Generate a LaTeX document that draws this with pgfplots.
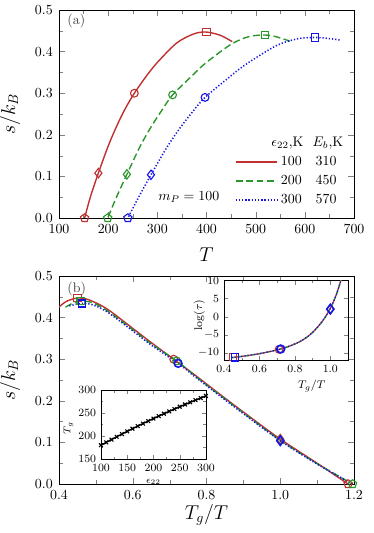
\documentclass[border=0pt]{standalone}
\usepackage{pgfplots}
\pgfplotsset{compat=1.18}
\definecolor{cred}{RGB}{192,48,48}
\definecolor{cgreen}{RGB}{40,150,40}
\definecolor{cblue}{RGB}{20,20,230}
\pgfplotsset{
  lr/.style={cred, line width=1pt, no marks, smooth},
  lg/.style={cgreen, line width=1pt, no marks, smooth, dash pattern=on 5pt off 2.5pt},
  lb/.style={cblue, line width=1.1pt, no marks, smooth, dash pattern=on 0.9pt off 1.4pt},
  mk/.style={only marks, mark size=2.8pt, line width=0.8pt, forget plot, mark options={solid, fill=none}},
  mkp/.style={mk, mark=pentagon, mark size=3.1pt},
  mkd/.style={mk, mark=diamond, mark size=3.4pt},
  mko/.style={mk, mark=o, mark size=2.8pt},
  mks/.style={mk, mark=square, mark size=2.6pt},
}
\begin{document}
\begin{tikzpicture}
\useasboundingbox (0pt,0pt) rectangle (269.28pt,-383.76pt);
% ---------------- panel (a)
\begin{axis}[
  at={(42.5pt,-157pt)}, anchor=south west, scale only axis,
  width=212.4pt, height=149.8pt,
  xmin=100, xmax=700, ymin=0, ymax=0.5,
  xtick={100,200,300,400,500,600,700}, minor x tick num=1,
  ytick={0,0.1,0.2,0.3,0.4,0.5}, minor y tick num=1,
  yticklabel style={xshift=-1pt,/pgf/number format/.cd,fixed,fixed zerofill,precision=1},
  xticklabel style={yshift=-1pt},
  label style={font=\Large},
  xlabel={$T$}, xlabel style={at={(axis description cs:0.5,-0.178)},anchor=center},
  ylabel={$s/k_B$}, ylabel style={at={(axis description cs:-0.166,0.5)},anchor=center},
  legend style={draw=none, fill=none, at={(0.965,0.03)}, anchor=south east, row sep=1.5pt},
  legend image code/.code={\draw[#1] (0pt,0pt) -- (30pt,0pt);},
]
\addplot[lr] coordinates {(452.3,0.424) (428.6,0.439) (400.0,0.447) (375.0,0.443) (339.6,0.421) (300.0,0.374) (276.9,0.340) (253.2,0.300) (233.8,0.261) (216.9,0.220) (200.0,0.173) (180.0,0.108) (163.6,0.050) (152.0,0.000)};
\addlegendentry{100\quad 310}
\addplot[lg] coordinates {(570.1,0.425) (540.9,0.436) (519.0,0.440) (485.7,0.436) (449.1,0.417) (396.7,0.371) (366.2,0.337) (331.0,0.296) (309.1,0.259) (286.7,0.218) (264.4,0.171) (238.0,0.105) (216.4,0.049) (199.0,0.000)};
\addlegendentry{200\quad 450}
\addplot[lb] coordinates {(670.6,0.428) (645.0,0.432) (621.2,0.434) (585.7,0.431) (541.5,0.414) (478.3,0.368) (441.5,0.334) (397.0,0.290) (372.7,0.257) (345.8,0.216) (318.9,0.169) (287.0,0.104) (260.9,0.048) (240.0,0.000)};
\addlegendentry{300\quad 570}
\addplot[mkp, cred] coordinates {(152,0)};
\addplot[mkd, cred] coordinates {(180,0.108)};
\addplot[mko, cred] coordinates {(253.2,0.300)};
\addplot[mks, cred] coordinates {(400,0.447)};
\addplot[mkp, cgreen] coordinates {(199,0)};
\addplot[mkd, cgreen] coordinates {(238,0.105)};
\addplot[mko, cgreen] coordinates {(331,0.296)};
\addplot[mks, cgreen] coordinates {(519,0.440)};
\addplot[mkp, cblue] coordinates {(240,0)};
\addplot[mkd, cblue] coordinates {(287,0.104)};
\addplot[mko, cblue] coordinates {(397,0.290)};
\addplot[mks, cblue] coordinates {(621.2,0.434)};
\node[anchor=east] at (axis cs:688,0.18) {$\epsilon_{22}$,K\ \ $E_b$,K};
\node at (axis cs:364,0.05) {$m_P = 100$};
\node[anchor=west, text=black!75] at (rel axis cs:0.012,0.945) {(a)};
\end{axis}
% ---------------- panel (b)
\begin{axis}[
  at={(42.5pt,-348.5pt)}, anchor=south west, scale only axis,
  width=212.4pt, height=149.8pt,
  xmin=0.4, xmax=1.2, ymin=0, ymax=0.5,
  xtick={0.4,0.6,0.8,1.0,1.2}, minor x tick num=1,
  ytick={0,0.1,0.2,0.3,0.4,0.5}, minor y tick num=1,
  xticklabel style={yshift=-1pt,/pgf/number format/.cd,fixed,fixed zerofill,precision=1},
  yticklabel style={xshift=-1pt,/pgf/number format/.cd,fixed,fixed zerofill,precision=1},
  label style={font=\Large},
  xlabel={$T_g/T$}, xlabel style={at={(axis description cs:0.5,-0.149)},anchor=center},
  ylabel={$s/k_B$}, ylabel style={at={(axis description cs:-0.166,0.5)},anchor=center},
]
\addplot[lr] coordinates {(0.398,0.424) (0.42,0.439) (0.45,0.447) (0.48,0.443) (0.53,0.421) (0.6,0.374) (0.65,0.340) (0.711,0.300) (0.77,0.261) (0.83,0.220) (0.9,0.173) (1.0,0.108) (1.1,0.050) (1.184,0)};
\addplot[lg] coordinates {(0.4175,0.425) (0.44,0.436) (0.4586,0.440) (0.49,0.436) (0.53,0.417) (0.6,0.371) (0.65,0.337) (0.719,0.296) (0.77,0.259) (0.83,0.218) (0.9,0.171) (1.0,0.105) (1.1,0.049) (1.196,0)};
\addplot[lb] coordinates {(0.428,0.428) (0.445,0.432) (0.462,0.434) (0.49,0.431) (0.53,0.414) (0.6,0.368) (0.65,0.334) (0.723,0.290) (0.77,0.257) (0.83,0.216) (0.9,0.169) (1.0,0.104) (1.1,0.048) (1.196,0)};
\addplot[mkp, cred] coordinates {(1.184,0)};
\addplot[mkd, cred] coordinates {(1.0,0.108)};
\addplot[mko, cred] coordinates {(0.711,0.300)};
\addplot[mks, cred] coordinates {(0.450,0.447)};
\addplot[mkp, cgreen] coordinates {(1.196,0)};
\addplot[mkd, cgreen] coordinates {(1.0,0.105)};
\addplot[mko, cgreen] coordinates {(0.719,0.296)};
\addplot[mks, cgreen] coordinates {(0.4586,0.440)};
\addplot[mkd, cblue, line width=1.1pt] coordinates {(1.0,0.104)};
\addplot[mko, cblue, line width=1.1pt] coordinates {(0.723,0.290)};
\addplot[mks, cblue, line width=1.1pt] coordinates {(0.462,0.434)};
\node[anchor=west, text=black!75] at (rel axis cs:0.012,0.9375) {(b)};
\end{axis}
% ---------------- inset top right
\begin{axis}[
  at={(161.3pt,-259.2pt)}, anchor=south west, scale only axis,
  width=89.3pt, height=57.2pt,
  axis background/.style={fill=white},
  xmin=0.4, xmax=1.1, ymin=-12, ymax=10,
  xtick={0.4,0.6,0.8,1.0}, minor x tick num=1,
  ytick={-10,-5,0,5,10},
  xticklabel style={/pgf/number format/.cd,fixed,fixed zerofill,precision=1},
  tick label style={font=\footnotesize},
  label style={font=\footnotesize},
  major tick length=3pt, minor tick length=1.8pt,
  xlabel={$T_g/T$}, xlabel style={at={(axis description cs:0.707,-0.33)},anchor=center},
  ylabel={$\log(\tau)$}, ylabel style={at={(axis description cs:-0.2,0.566)},anchor=center},
]
\addplot[lr, line width=0.9pt] coordinates {(0.443,-11.35) (0.5,-11.0) (0.55,-10.65) (0.6,-10.25) (0.65,-9.75) (0.712,-9.05) (0.773,-8.1) (0.83,-6.85) (0.867,-5.7) (0.9,-4.35) (0.942,-2.1) (0.97,-0.2) (0.997,2.0) (1.02,4.4) (1.036,6.4) (1.05,8.5) (1.062,10.5)};
\addplot[lg, line width=0.9pt, dash pattern=on 2.5pt off 2.5pt] coordinates {(0.443,-11.35) (0.5,-11.0) (0.55,-10.65) (0.6,-10.25) (0.65,-9.75) (0.712,-9.05) (0.773,-8.1) (0.83,-6.85) (0.867,-5.7) (0.9,-4.35) (0.942,-2.1) (0.97,-0.2) (0.997,2.0) (1.02,4.4) (1.036,6.4) (1.05,8.5) (1.062,10.5)};
\addplot[lb, line width=0.9pt] coordinates {(0.443,-11.35) (0.5,-11.0) (0.55,-10.65) (0.6,-10.25) (0.65,-9.75) (0.712,-9.05) (0.773,-8.1) (0.83,-6.85) (0.867,-5.7) (0.9,-4.35) (0.942,-2.1) (0.97,-0.2) (0.997,2.0) (1.02,4.4) (1.036,6.4) (1.05,8.5) (1.062,10.5)};
\addplot[mks, cred] coordinates {(0.452,-11.25)};
\addplot[mko, cred] coordinates {(0.711,-9.05)};
\addplot[mkd, cred] coordinates {(1.0,2.1)};
\addplot[mks, cblue, line width=1.2pt] coordinates {(0.462,-11.2)};
\addplot[mko, cblue, line width=1.2pt] coordinates {(0.72,-8.95)};
\addplot[mkd, cblue, line width=1.2pt] coordinates {(1.0,2.1)};
\end{axis}
% ---------------- inset bottom left
\begin{axis}[
  at={(72.7pt,-330.5pt)}, anchor=south west, scale only axis,
  width=75.6pt, height=49.7pt,
  axis background/.style={fill=white},
  xmin=100, xmax=300, ymin=150, ymax=300,
  xtick={100,150,200,250,300}, minor x tick num=1,
  ytick={150,200,250,300}, minor y tick num=1,
  tick label style={font=\footnotesize},
  label style={font=\scriptsize},
  major tick length=3pt, minor tick length=1.8pt,
  xlabel={$\epsilon_{22}$}, xlabel style={at={(axis description cs:0.5,-0.33)},anchor=center},
  ylabel={$T_g$}, ylabel style={at={(axis description cs:-0.31,0.445)},anchor=center},
]
\addplot[black, line width=1pt, mark=x, mark size=1.9pt, mark options={line width=0.8pt}] coordinates {(100,180.0) (110,186.2) (120,192.3) (130,198.4) (140,204.3) (150,210.1) (160,215.9) (170,221.5) (180,227.1) (190,232.6) (200,238.0) (210,243.3) (220,248.5) (230,253.7) (240,258.7) (250,263.6) (260,268.5) (270,273.3) (280,277.9) (290,282.5) (300,287.0)};
\end{axis}
\end{tikzpicture}
\end{document}
